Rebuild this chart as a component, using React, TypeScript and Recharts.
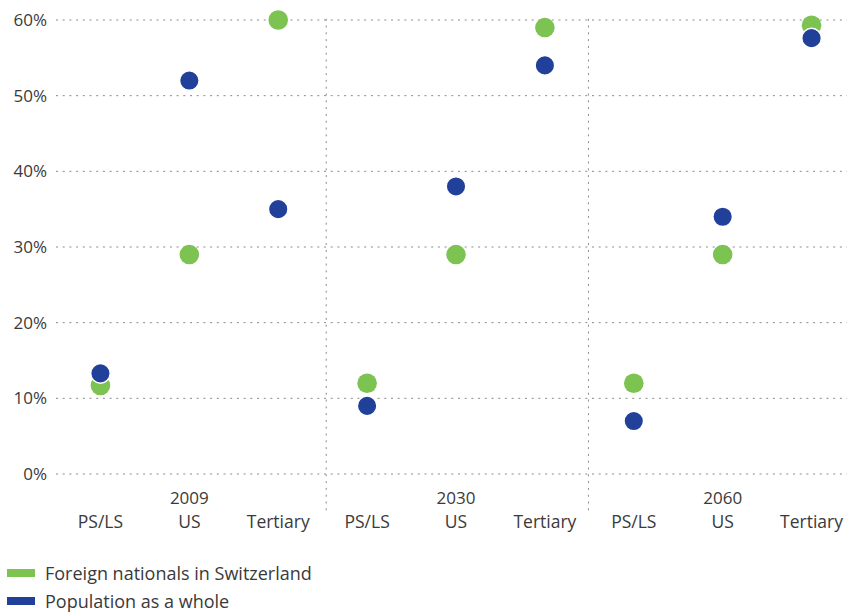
import React from 'react';
import { ComposedChart, Scatter, XAxis, YAxis, CartesianGrid, ReferenceLine } from 'recharts';

const levels = ['PS/LS', 'US', 'Tertiary', 'PS/LS', 'US', 'Tertiary', 'PS/LS', 'US', 'Tertiary'];
const years = ['', '2009', '', '', '2030', '', '', '2060', ''];
const foreign = [11.7, 29, 60, 12, 29, 59, 12, 29, 59.3];
const population = [13.3, 52, 35, 9, 38, 54, 7, 34, 57.6];
const yTicks = [0, 10, 20, 30, 40, 50, 60];

const GREEN = '#7cc352';
const BLUE = '#21409a';
const FONT = '"Open Sans", sans-serif';

const data = levels.map((level, i) => ({
  x: i,
  level,
  year: years[i],
  foreign: foreign[i],
  population: population[i]
}));

const XTick = (props: any) => {
  const { x, y, payload } = props;
  const i = payload.value;
  return (
    <g>
      {years[i] ? (
        <text x={x} y={y + 28} textAnchor="middle" fill="#3a3a3a" fontSize={17} fontFamily={FONT}>
          {years[i]}
        </text>
      ) : null}
      <text x={x} y={y + 52} textAnchor="middle" fill="#3a3a3a" fontSize={17.5} fontFamily={FONT}>
        {levels[i]}
      </text>
    </g>
  );
};

const dot = (color: string, stroke: string) => (props: any) => (
  <circle cx={props.cx} cy={props.cy} r={9.8} fill={color} stroke={stroke} strokeWidth={1.5} />
);

export default function App() {
  return (
    <div style={{ position: 'absolute', left: 0, top: 0, width: 847, height: 612, overflow: 'hidden', background: '#fff' }}>
      <ComposedChart width={870} height={612} data={data} margin={{ top: 20, right: 14, bottom: 78, left: 0 }}>
        <CartesianGrid vertical={false} stroke="#8a8a8a" strokeDasharray="2 4.7" />
        <XAxis
          dataKey="x"
          type="number"
          domain={[-0.5, 8.5]}
          ticks={[0, 1, 2, 3, 4, 5, 6, 7, 8]}
          axisLine={false}
          tickLine={false}
          tickSize={0}
          height={60}
          tick={<XTick />}
          interval={0}
        />
        <YAxis
          type="number"
          domain={[0, 60]}
          ticks={yTicks}
          tickFormatter={(v: number) => `${v}%`}
          axisLine={false}
          tickLine={false}
          tickSize={0}
          tickMargin={9}
          width={56}
          tick={{ fill: '#3a3a3a', fontSize: 17, fontFamily: FONT }}
        />
        <ReferenceLine
          segment={[{ x: 2.54, y: -4.8 }, { x: 2.54, y: 60.4 }]}
          stroke="#8a8a8a"
          strokeDasharray="2 4.8"
          ifOverflow="visible"
        />
        <ReferenceLine
          segment={[{ x: 5.49, y: -4.8 }, { x: 5.49, y: 60.4 }]}
          stroke="#8a8a8a"
          strokeDasharray="2 4.8"
          ifOverflow="visible"
        />
        <Scatter dataKey="foreign" fill={GREEN} shape={dot(GREEN, 'none')} isAnimationActive={false} />
        <Scatter dataKey="population" fill={BLUE} shape={dot(BLUE, '#fff')} isAnimationActive={false} />
      </ComposedChart>
      <div style={{ position: 'absolute', left: 7, top: 561, fontFamily: FONT, fontSize: 18, color: '#3a3a3a' }}>
        <div style={{ display: 'flex', alignItems: 'center', height: 24, marginBottom: 4 }}>
          <span style={{ width: 28, height: 8, background: GREEN, marginRight: 10 }} />
          Foreign nationals in Switzerland
        </div>
        <div style={{ display: 'flex', alignItems: 'center', height: 24 }}>
          <span style={{ width: 28, height: 8, background: BLUE, marginRight: 10 }} />
          Population as a whole
        </div>
      </div>
    </div>
  );
}
